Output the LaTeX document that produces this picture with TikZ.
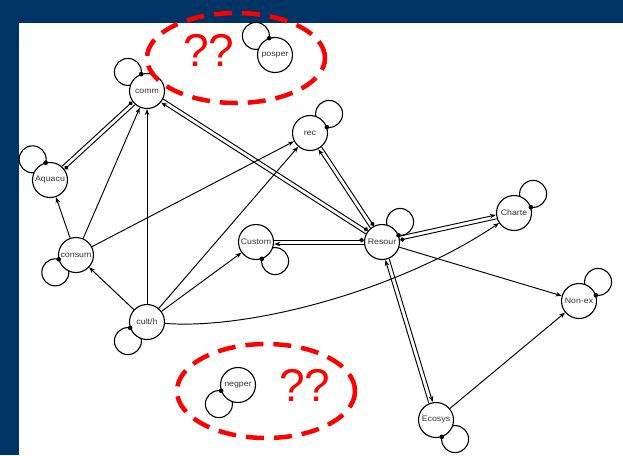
\documentclass[tikz,border=0pt]{standalone}
\usepackage{fontspec}
\usetikzlibrary{arrows.meta,calc}
\newfontfamily\lblfont{Liberation Sans}
\definecolor{navy}{RGB}{0,51,102}
\newcommand\lbl[1]{\scalebox{1.1}[1]{#1}}
\pgfdeclarelayer{bgzero}
\pgfdeclarelayer{bgone}
\pgfsetlayers{bgzero,bgone,main}
\newcommand\dbl[4]{%
  \draw[edge,#3,shorten <=18.2pt,shorten >=18.2pt] ($(#1.center)!2pt!90:(#2.center)$) -- ($(#2.center)!2pt!-90:(#1.center)$);
  \draw[edge,#4,shorten <=18.2pt,shorten >=18.2pt] ($(#2.center)!2pt!90:(#1.center)$) -- ($(#1.center)!2pt!-90:(#2.center)$);}
\newcommand\selfloop[2]{%
  \begin{pgfonlayer}{bgone}
    \draw[loopst] ($(#1.center)+(#2:27pt)$) circle[radius=13.5pt];
  \end{pgfonlayer}
  \fill ($(#1.center)+({#2-26}:17.8pt)$) circle[radius=2.3pt];}
\begin{document}
\begin{tikzpicture}[x=1pt,y=-1pt,
  gnode/.style={circle,draw,line width=1.1pt,fill=white,minimum size=35pt,inner sep=0pt,
    font=\lblfont\fontsize{8}{9}\selectfont,text=black!80},
  edge/.style={line width=0.95pt},
  tipT/.style={-{Stealth[length=6pt,width=4.5pt]}},
  tipD/.style={-{Circle[length=4.4pt]}},
  loopst/.style={line width=1.1pt},
  ell/.style={draw=red,line width=4.5pt,dash pattern=on 18pt off 10pt},
  qq/.style={text=red,font=\lblfont\fontsize{46}{46}\selectfont,inner sep=0pt}]
\useasboundingbox (0,0) rectangle (623,455);
\begin{pgfonlayer}{bgzero}
  \fill[navy] (0,0) rectangle (623,455);
  \fill[white] (19,23) rectangle (623,455);
\end{pgfonlayer}
% nodes
\node[gnode] (comm)   at (147,91)  {\lbl{comm}};
\node[gnode] (posper) at (275,55)  {\lbl{posper}};
\node[gnode] (aquacu) at (50,180)  {\lbl{Aquacu}};
\node[gnode] (rec)    at (310,133) {\lbl{rec}};
\node[gnode] (consum) at (76,255)  {\lbl{consum}};
\node[gnode] (custom) at (256,242) {\lbl{Custom}};
\node[gnode] (resour) at (382,242) {\lbl{Resour}};
\node[gnode] (charte) at (514,213) {\lbl{Charte}};
\node[gnode] (cult)   at (147,322) {\lbl{cult/h}};
\node[gnode] (nonex)  at (579,301) {\lbl{Non-ex}};
\node[gnode] (negper) at (238,385) {\lbl{negper}};
\node[gnode] (ecosys) at (436,420) {\lbl{Ecosys}};
% self loops
\selfloop{comm}{135}
\selfloop{posper}{135}
\selfloop{aquacu}{130}
\selfloop{rec}{45}
\selfloop{consum}{220}
\selfloop{custom}{315}
\selfloop{resour}{48}
\selfloop{charte}{45}
\selfloop{cult}{225}
\selfloop{nonex}{45}
\selfloop{negper}{225}
\selfloop{ecosys}{315}
% single edges
\draw[edge,tipT] (consum) -- (aquacu);
\draw[edge,tipT] (consum) -- (comm);
\draw[edge,tipT] (cult) -- (comm);
\draw[edge,tipT] (consum) -- (rec);
\draw[edge,tipT] (cult) -- (rec);
\draw[edge,tipT] (cult) -- (consum);
\draw[edge,tipT] (cult) -- (custom);
\draw[edge,tipT] (resour) -- (nonex);
\draw[edge,tipT] (ecosys) -- (nonex);
\draw[edge,tipT] (cult) .. controls (250,330) and (400,290) .. (charte);
% double edges
\dbl{comm}{aquacu}{tipD}{tipD}
\dbl{resour}{comm}{tipT}{tipD}
\dbl{resour}{rec}{tipT}{tipD}
\dbl{resour}{custom}{tipT}{tipD}
\dbl{resour}{charte}{tipT}{tipD}
\dbl{resour}{ecosys}{tipT}{tipT}
% red annotations
\draw[ell] (236,58) ellipse[x radius=89pt, y radius=45pt];
\draw[ell] (266,391) ellipse[x radius=89pt, y radius=47pt];
\node[qq] (q1) at (209,50) {??};
\node[qq] (q2) at (305,385) {??};
\end{tikzpicture}
\end{document}
